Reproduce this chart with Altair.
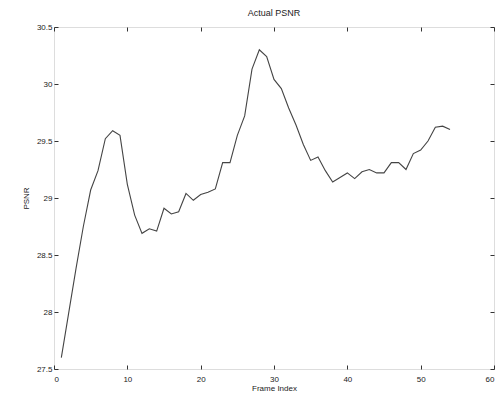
import altair as alt
import pandas as pd

frames = list(range(1, 55))
psnr = [27.60, 27.99, 28.38, 28.75, 29.07, 29.24, 29.52, 29.59, 29.55, 29.12,
        28.85, 28.69, 28.73, 28.71, 28.91, 28.86, 28.88, 29.04, 28.98, 29.03,
        29.05, 29.08, 29.31, 29.31, 29.55, 29.72, 30.13, 30.30, 30.24, 30.04,
        29.96, 29.79, 29.64, 29.47, 29.33, 29.36, 29.24, 29.14, 29.18, 29.22,
        29.17, 29.23, 29.25, 29.22, 29.22, 29.31, 29.31, 29.25, 29.39, 29.42,
        29.50, 29.62, 29.63, 29.60]
x_ticks = [0, 10, 20, 30, 40, 50, 60]
y_ticks = [27.5, 28, 28.5, 29, 29.5, 30, 30.5]

df = pd.DataFrame({"frame": frames, "psnr": psnr})

FONT = "Liberation Sans"
GRAY = "#333333"

xscale = alt.Scale(domain=[0, 60], nice=False, zero=False)
yscale = alt.Scale(domain=[27.5, 30.5], nice=False, zero=False)

common_axis = dict(domain=False, grid=False, tickSize=4, offset=-4,
                   tickColor=GRAY, labelColor="#222", titleColor="#222",
                   labelFont=FONT, titleFont=FONT, labelFontSize=8,
                   titleFontSize=8, titleFontWeight="normal")

main = alt.Chart(df).mark_line(color="#444444", strokeWidth=1.1).encode(
    x=alt.X("frame:Q", scale=xscale,
            axis=alt.Axis(values=x_ticks, title="Frame Index", orient="bottom",
                          labelPadding=6, titlePadding=1, **common_axis)),
    y=alt.Y("psnr:Q", scale=yscale,
            axis=alt.Axis(values=y_ticks, title="PSNR", orient="left",
                          format="~g", labelPadding=2, titlePadding=6,
                          **common_axis)),
)

mirror = alt.Chart(df).mark_line(opacity=0).encode(
    x=alt.X("frame:Q", scale=xscale,
            axis=alt.Axis(values=x_ticks, title=None, orient="top",
                          labels=False, **common_axis)),
    y=alt.Y("psnr:Q", scale=yscale,
            axis=alt.Axis(values=y_ticks, title=None, orient="right",
                          labels=False, **common_axis)),
)

chart = alt.layer(main, mirror).properties(
    width=440,
    height=342,
    title=alt.TitleParams("Actual PSNR", font=FONT, fontSize=9,
                          fontWeight="normal", color="#222", offset=5),
    autosize=alt.AutoSizeParams(type="none"),
    padding={"left": 46, "top": 19, "right": 1, "bottom": 22},
).configure_view(stroke=GRAY, strokeWidth=1).configure(background="white")

chart.save("out.html", embed_options={"renderer": "svg", "actions": False})
